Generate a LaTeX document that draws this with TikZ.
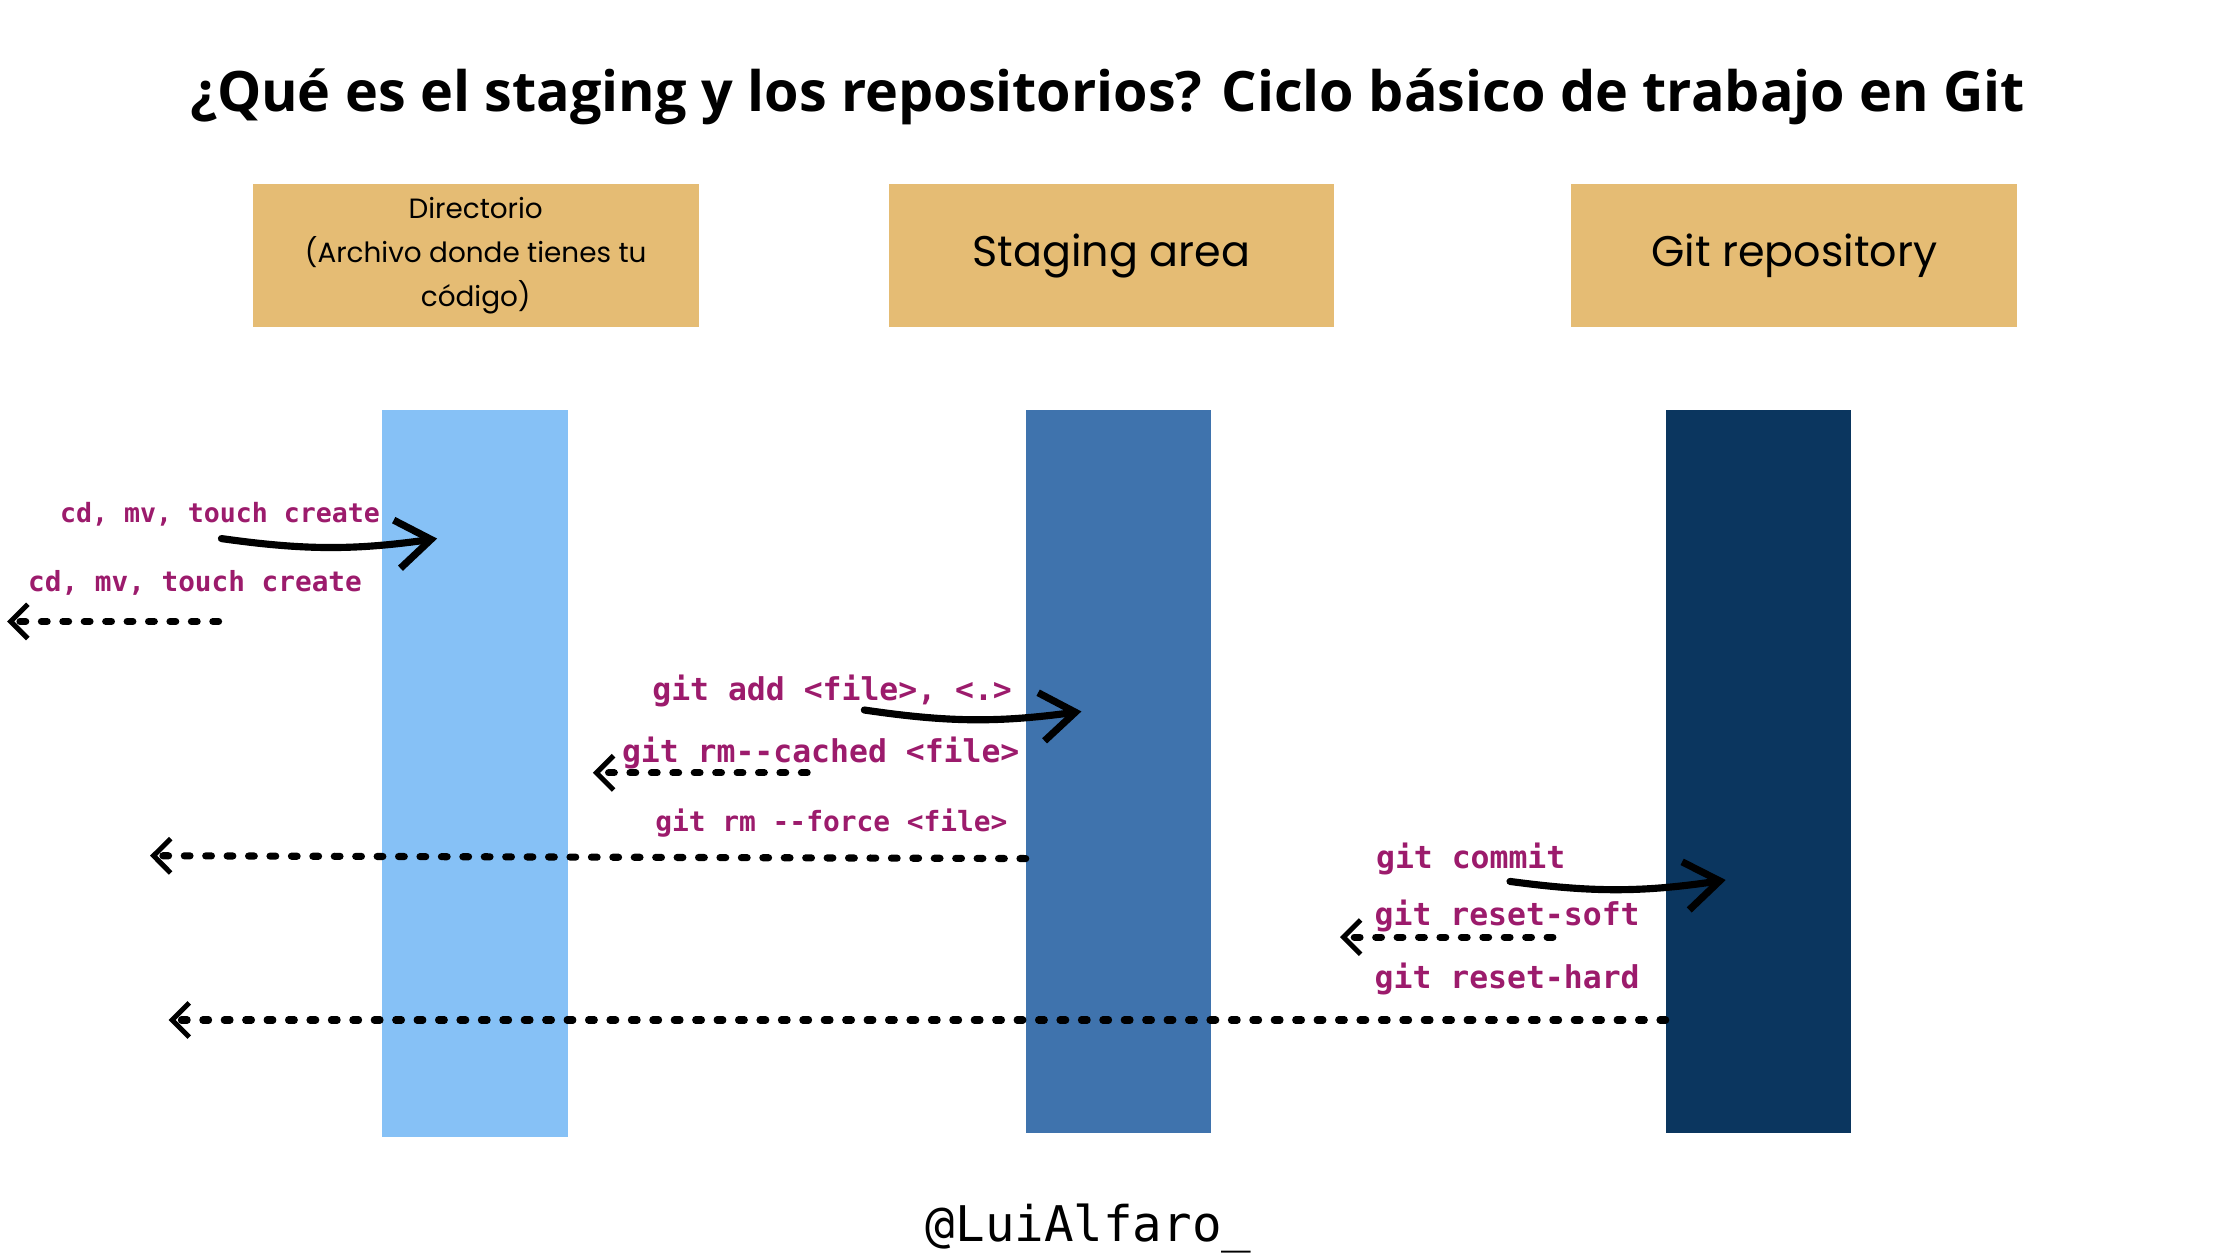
\documentclass[tikz,border=0pt]{standalone}
\usepackage{fontspec}
\setmainfont{Open Sans}
\newfontfamily\boxfont{Poppins}
\newfontfamily\cmdfont{DejaVu Sans Mono}
\usetikzlibrary{arrows.meta}
\definecolor{headtan}{HTML}{E5BC74}
\definecolor{worklane}{HTML}{86C1F6}
\definecolor{stagelane}{HTML}{3F73AD}
\definecolor{repolane}{HTML}{0B365F}
\definecolor{cmdpurple}{HTML}{9C1B6C}

\begin{document}
\begin{tikzpicture}[x=1pt,y=-1pt]
\tikzset{
  header/.style={fill=headtan, minimum width=312pt, minimum height=100pt, inner sep=0pt, align=center, font=\boxfont\fontsize{30}{34}\selectfont},
  lane/.style={minimum width=130pt, inner sep=0pt},
  cmd/.style={text=cmdpurple, inner sep=0pt, font=\cmdfont\bfseries\fontsize{22}{22}\selectfont},
  push/.style={line width=5pt, line cap=round, -{Straight Barb[length=24pt,width=34pt,line width=5pt]}},
  pull/.style={line width=5pt, line cap=round, dash pattern=on 4pt off 11pt, -{Straight Barb[length=12pt,width=24pt,line width=3.5pt]}}
}
\useasboundingbox (0,0) rectangle (1568,882);

\node [font=\bfseries\fontsize{39}{42}\selectfont] (title) at (775.5,68) {¿Qué es el staging y los repositorios? Ciclo básico de trabajo en Git};

\node [header, font=\boxfont\fontsize{19.5}{31}\selectfont] (dir) at (333,179) {Directorio\\(Archivo donde tienes tu\\código)};
\node [header] (stage) at (778,179) {Staging area};
\node [header] (repo) at (1256,179) {Git repository};

\node [lane, fill=worklane, minimum height=509pt] (worklane) at (332.5,541.5) {};
\node [lane, fill=stagelane, minimum height=506pt] (stagelane) at (783,540) {};
\node [lane, fill=repolane, minimum height=506pt] (repolane) at (1231,540) {};

\node [cmd, font=\cmdfont\bfseries\fontsize{18.6}{20}\selectfont] (touchin) at (154,360) {cd, mv, touch create};
\node [cmd, font=\cmdfont\bfseries\fontsize{19.4}{20}\selectfont] (touchout) at (136.5,408) {cd, mv, touch create};
\node [cmd] (add) at (582.5,484) {git add <file>, <.>};
\node [cmd] (cached) at (574.5,527) {git rm--cached <file>};
\node [cmd, font=\cmdfont\bfseries\fontsize{19.5}{20}\selectfont] (force) at (582,576) {git rm --force <file>};
\node [cmd] (commit) at (1029.5,601) {git commit};
\node [cmd] (soft) at (1055,641) {git reset-soft};
\node [cmd] (hard) at (1055,685) {git reset-hard};

\node [font=\cmdfont\fontsize{34.4}{36}\selectfont] (author) at (762,860) {@LuiAlfaro\_};

\coordinate (touchin s) at (155,377);
\coordinate (touchin e) at (306,377);
\coordinate (touchout s) at (153,435);
\coordinate (touchout e) at (5,435);
\coordinate (add s) at (605,497);
\coordinate (add e) at (757,498);
\coordinate (cached s) at (565,541);
\coordinate (cached e) at (415,541);
\coordinate (force s) at (718,601);
\coordinate (force e) at (105,599);
\coordinate (commit s) at (1057,617);
\coordinate (commit e) at (1208,616);
\coordinate (soft s) at (1087,656);
\coordinate (soft e) at (938,656);
\coordinate (hard s) at (1166,714);
\coordinate (hard e) at (118,714);

\draw [push] (touchin s) to[bend right=8] (touchin e);
\draw [pull] (touchout s) -- (touchout e);
\draw [push] (add s) to[bend right=8] (add e);
\draw [pull] (cached s) -- (cached e);
\draw [pull] (force s) -- (force e);
\draw [push] (commit s) to[bend right=8] (commit e);
\draw [pull] (soft s) -- (soft e);
\draw [pull] (hard s) -- (hard e);
\end{tikzpicture}
\end{document}
